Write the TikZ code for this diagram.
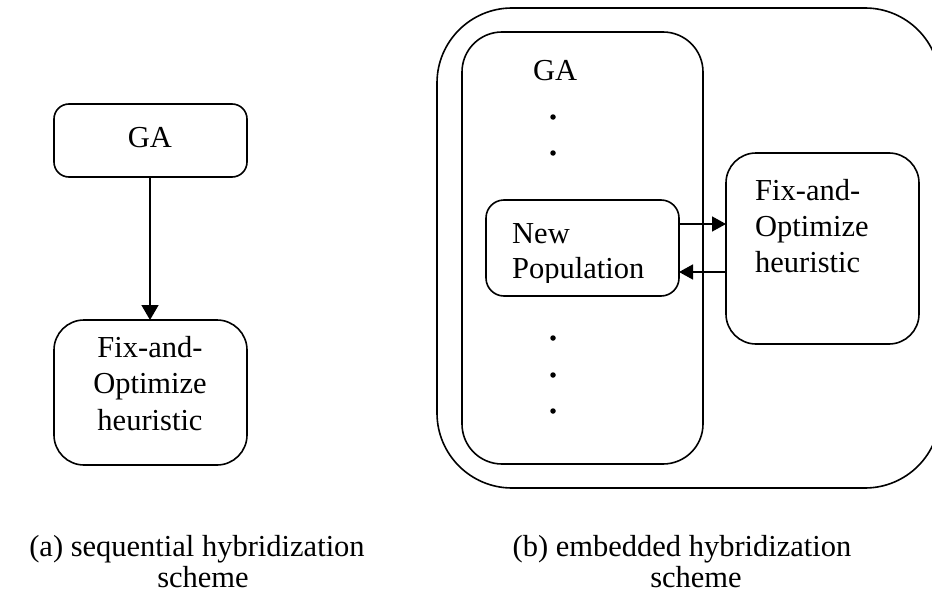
\documentclass[tikz,border=0pt]{standalone}
\usepackage{fontspec}
\setmainfont{Liberation Serif}
\usetikzlibrary{arrows.meta}
\begin{document}
\begin{tikzpicture}[x=1pt,y=-1pt,
  box/.style={draw=black,line width=1.6pt,fill=none},
  lbl/.style={inner sep=0pt,font=\fontsize{30.5}{36}\selectfont},
  link/.style={line width=1.5pt,-{Triangle[length=14pt,width=15pt]}},
  dotmark/.style={circle,fill=black,inner sep=0pt,minimum size=5.5pt}]
  \path[use as bounding box] (0,0) rectangle (932,594);
  \clip (0,0) rectangle (932,594);

  % (a) sequential scheme
  \draw[box,rounded corners=15pt] (54,104) rectangle (247,177);
  \coordinate (gaAtop) at (150,177);
  \node[lbl,anchor=base] (gaA) at (150,147) {GA};
  \draw[box,rounded corners=30pt] (54,320) rectangle (247,465);
  \coordinate (foAtop) at (150,320);
  \node[lbl,anchor=base] (foA1) at (150,357) {Fix-and-};
  \node[lbl,anchor=base] (foA2) at (150,393) {Optimize};
  \node[lbl,anchor=base] (foA3) at (150,430) {heuristic};
  \draw[link,-{Triangle[length=15pt,width=17pt]}] (gaAtop) -- (foAtop);

  % (b) embedded scheme
  \draw[box,rounded corners=75pt] (437,8) rectangle (940,488);
  \draw[box,rounded corners=40pt] (462,32) rectangle (703,464);
  \node[lbl,anchor=base west] (gaB) at (533,81) {GA};
  \node[dotmark] (d1) at (553,117) {};
  \node[dotmark] (d2) at (553,153) {};
  \node[dotmark] (d3) at (553,338) {};
  \node[dotmark] (d4) at (553,375) {};
  \node[dotmark] (d5) at (553,411) {};

  \draw[box,rounded corners=18pt] (486,200) rectangle (679,296);
  \node[lbl,anchor=base west] (np1) at (512,243) {New};
  \begin{scope}
    \clip (486,200) rectangle (679,282);
    \node[lbl,anchor=base west] (np2) at (512,278) {Population};
  \end{scope}

  \draw[box,rounded corners=30pt] (726,153) rectangle (919,344);
  \node[lbl,anchor=base west] (foB1) at (755,200) {Fix-and-};
  \node[lbl,anchor=base west] (foB2) at (755,236) {Optimize};
  \node[lbl,anchor=base west] (foB3) at (755,272) {heuristic};

  \coordinate (npOut) at (679,224);
  \coordinate (foIn) at (726,224);
  \coordinate (foOut) at (726,272);
  \coordinate (npIn) at (679,272);
  \draw[link] (npOut) -- (foIn);
  \draw[link] (foOut) -- (npIn);

  % captions
  \node[lbl,anchor=base] (capA1) at (197,556) {(a) sequential hybridization};
  \node[lbl,anchor=base] (capA2) at (203,587) {scheme};
  \node[lbl,anchor=base] (capB1) at (682,556) {(b) embedded hybridization};
  \node[lbl,anchor=base] (capB2) at (696,587) {scheme};
\end{tikzpicture}
\end{document}
